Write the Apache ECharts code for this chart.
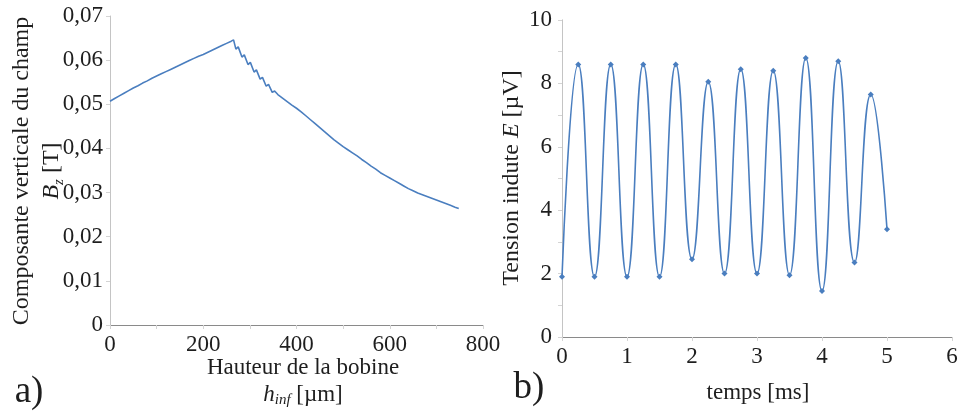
<!DOCTYPE html>
<html>
<head>
<meta charset="utf-8">
<script src="https://cdn.jsdelivr.net/npm/echarts@6/dist/echarts.min.js"></script>
<style>
html,body{margin:0;padding:0;background:#fff;}
#c{width:962px;height:412px;}
</style>
</head>
<body>
<div id="c"></div>
<script>
// ---- Chart a) : vertical field component vs coil height ----
const hauteur = [0,10,20,30,40,50,60,70,80,90,100,110,120,130,140,150,160,170,180,190,200,210,220,230,240,250,260,265,
  270,275,283,288,296,301,309,314,322,327,335,340,348,353,
  360,370,380,390,400,410,420,430,440,450,460,470,480,490,500,510,520,530,540,550,560,570,580,590,600,610,620,630,640,650,660,670,680,690,700,710,720,730,740,748];
const champBz = [0.0507,0.0513,0.0519,0.0525,0.0531,0.0537,0.0542,0.0548,0.0553,0.0559,0.0564,0.0569,0.0574,0.0579,0.0584,0.0589,0.0594,0.0599,0.0604,0.0609,0.0613,0.0618,0.0623,0.0628,0.0633,0.0638,0.0643,0.0646,
  0.0625,0.0630,0.0607,0.0612,0.0590,0.0595,0.0573,0.0578,0.0557,0.0561,0.0541,0.0545,0.0527,0.0530,
  0.0522,0.0514,0.0506,0.0498,0.0491,0.0483,0.0474,0.0465,0.0456,0.0447,0.0438,0.0429,0.0420,0.0412,0.0404,0.0397,0.0390,0.0383,0.0375,0.0368,0.0360,0.0353,0.0345,0.0339,0.0333,0.0327,0.0321,0.0315,0.0309,0.0304,0.0299,0.0295,0.0291,0.0287,0.0283,0.0279,0.0275,0.0271,0.0267,0.0264];
const yTicksA = ['0','0,01','0,02','0,03','0,04','0,05','0,06','0,07'];
const xTicksA = ['0','200','400','600','800'];

// ---- Chart b) : induced voltage vs time ----
const temps = [0,0.25,0.5,0.75,1,1.25,1.5,1.75,2,2.25,2.5,2.75,3,3.25,3.5,3.75,4,4.25,4.5,4.75,5];
const tension = [1.9,8.6,1.9,8.6,1.9,8.6,1.9,8.6,2.45,8.05,2.0,8.45,2.0,8.4,1.95,8.8,1.45,8.7,2.35,7.65,3.4];
const yTicksB = ['0','2','4','6','8','10'];
const xTicksB = ['0','1','2','3','4','5','6'];

const FONT = 'Liberation Serif';
const TXT = '#1e1e1e';
const AX = '#d4d4d4';
const BLUE = '#4a7ebf';

const chart = echarts.init(document.getElementById('c'));

const labelStyle = {fontFamily: FONT, fontSize: 23, color: TXT};

const option = {
  animation: false,
  backgroundColor: '#fff',
  grid: [
    {left: 110, right: 479, top: 16, bottom: 87},
    {left: 562, right: 10, top: 20, bottom: 75}
  ],
  xAxis: [
    {type: 'value', gridIndex: 0, min: 0, max: 800, interval: 100,
     axisLine: {lineStyle: {color: AX}}, axisTick: {show: true, length: 4, lineStyle: {color: AX}},
     splitLine: {show: false},
     axisLabel: Object.assign({margin: 8, showMinLabel: true, showMaxLabel: true,
       formatter: v => (v % 200 === 0 ? xTicksA[v / 200] : '')}, labelStyle)},
    {type: 'value', gridIndex: 1, min: 0, max: 6, interval: 1,
     axisLine: {lineStyle: {color: AX}}, axisTick: {show: true, length: 4, lineStyle: {color: AX}},
     splitLine: {show: false},
     axisLabel: Object.assign({margin: 8, formatter: v => xTicksB[Math.round(v)]}, labelStyle)},
    // top borders
    {type: 'value', gridIndex: 0, position: 'top', min: 0, max: 1,
     axisLine: {show: true, lineStyle: {color: '#8a8a8a'}}, axisTick: {show: false}, axisLabel: {show: false}, splitLine: {show: false}},
    {type: 'value', gridIndex: 1, position: 'top', min: 0, max: 1,
     axisLine: {show: true, lineStyle: {color: '#8a8a8a'}}, axisTick: {show: false}, axisLabel: {show: false}, splitLine: {show: false}}
  ],
  yAxis: [
    {type: 'value', gridIndex: 0, min: 0, max: 0.07, interval: 0.01,
     axisLine: {show: false}, axisTick: {show: true, length: 4, lineStyle: {color: AX}},
     splitLine: {show: false},
     axisLabel: Object.assign({margin: 7, formatter: v => yTicksA[Math.round(v * 100)]}, labelStyle)},
    {type: 'value', gridIndex: 1, min: 0, max: 10, interval: 1,
     axisLine: {show: true, lineStyle: {color: AX}}, axisTick: {show: true, length: 4, lineStyle: {color: AX}},
     splitLine: {show: false},
     axisLabel: Object.assign({margin: 10, formatter: v => (Math.round(v) % 2 === 0 ? yTicksB[Math.round(v) / 2] : '')}, labelStyle)},
    // right borders
    {type: 'value', gridIndex: 0, position: 'right', min: 0, max: 1,
     axisLine: {show: true, lineStyle: {color: '#c4c4c4'}}, axisTick: {show: false}, axisLabel: {show: false}, splitLine: {show: false}},
    {type: 'value', gridIndex: 1, position: 'right', min: 0, max: 1,
     axisLine: {show: true, lineStyle: {color: '#c4c4c4'}}, axisTick: {show: false}, axisLabel: {show: false}, splitLine: {show: false}}
  ],
  series: [
    {type: 'line', xAxisIndex: 0, yAxisIndex: 0, showSymbol: false,
     lineStyle: {color: BLUE, width: 1.6},
     data: hauteur.map((h, i) => [h, champBz[i]])},
    {type: 'line', xAxisIndex: 1, yAxisIndex: 1, smooth: 0.5,
     symbol: 'diamond', symbolSize: 6,
     itemStyle: {color: BLUE}, lineStyle: {color: BLUE, width: 1.6},
     data: temps.map((t, i) => [t, tension[i]])}
  ],
  graphic: [
    {type: 'text', x: 37, y: 171, rotation: Math.PI / 2,
     style: {text: 'Composante verticale du champ\n{i|B}{s|z} [T]', fontFamily: FONT, fontSize: 24, fill: TXT,
       align: 'center', verticalAlign: 'middle', lineHeight: 30,
       rich: {i: {fontFamily: FONT, fontSize: 24, fontStyle: 'italic', fill: TXT},
              s: {fontFamily: FONT, fontSize: 15, fontStyle: 'italic', fill: TXT, verticalAlign: 'bottom', padding: [10, 0, 0, 0]}}}},
    {type: 'text', x: 303, y: 381,
     style: {text: 'Hauteur de la bobine\n{i|h}{s|inf} [µm]', fontFamily: FONT, fontSize: 23, fill: TXT,
       align: 'center', verticalAlign: 'middle', lineHeight: 27,
       rich: {i: {fontFamily: FONT, fontSize: 23, fontStyle: 'italic', fill: TXT},
              s: {fontFamily: FONT, fontSize: 15, fontStyle: 'italic', fill: TXT, verticalAlign: 'bottom', padding: [10, 0, 0, 0]}}}},
    {type: 'text', x: 512, y: 178, rotation: Math.PI / 2,
     style: {text: 'Tension indute {i|E} [µV]', fontFamily: FONT, fontSize: 24, fill: TXT,
       align: 'center', verticalAlign: 'middle',
       rich: {i: {fontFamily: FONT, fontSize: 24, fontStyle: 'italic', fill: TXT}}}},
    {type: 'text', x: 758, y: 393,
     style: {text: 'temps [ms]', fontFamily: FONT, fontSize: 23, fill: TXT, align: 'center', verticalAlign: 'middle'}},
    {type: 'text', x: 29, y: 392,
     style: {text: 'a)', fontFamily: FONT, fontSize: 37, fill: TXT, align: 'center', verticalAlign: 'middle'}},
    {type: 'text', x: 529, y: 388,
     style: {text: 'b)', fontFamily: FONT, fontSize: 37, fill: TXT, align: 'center', verticalAlign: 'middle'}}
  ]
};
chart.setOption(option);
</script>
</body>
</html>
